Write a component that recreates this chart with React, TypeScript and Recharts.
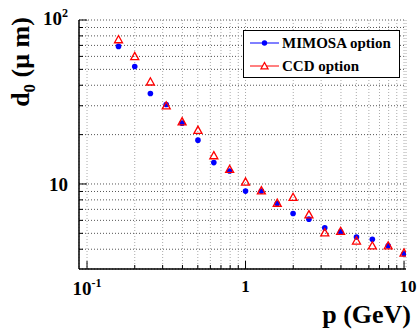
import React from "react";
import { ScatterChart, Scatter, XAxis, YAxis, CartesianGrid } from "recharts";

// momentum points (GeV) and impact parameter resolution d0 (um)
const momentum = [0.158, 0.2, 0.251, 0.316, 0.398, 0.501, 0.631, 0.794, 1.0, 1.259, 1.585, 1.995, 2.512, 3.162, 3.981, 5.012, 6.31, 7.943, 10.0];
const mimosaD0 = [69, 52, 35.6, 30.5, 23.5, 18.5, 13.5, 12.0, 9.05, 9.05, 7.6, 6.6, 6.1, 5.4, 5.1, 4.75, 4.6, 4.2, 3.75];
const ccdD0 = [76, 60, 42, 30, 24, 21.3, 14.9, 12.3, 10.3, 9.1, 7.65, 8.3, 6.5, 5.05, 5.15, 4.5, 4.2, 4.2, 3.8];
const seriesNames = ["MIMOSA option", "CCD option"];

const xTicks = [0.1, 0.2, 0.3, 0.4, 0.5, 0.6, 0.7, 0.8, 0.9, 1, 2, 3, 4, 5, 6, 7, 8, 9, 10];
const yTicks = [4, 5, 6, 7, 8, 9, 10, 20, 30, 40, 50, 60, 70, 80, 90, 100];
const xMajor = [0.1, 1, 10];
const yMajor = [10, 100];

const FONT = '"Liberation Serif", "Times New Roman", serif';
const BLUE = "#0000ff";
const RED = "#ff0000";

const mimosaData = momentum.map((p, i) => ({ x: p, y: mimosaD0[i] }));
const ccdData = momentum.map((p, i) => ({ x: p, y: ccdD0[i] }));

const BottomTick = (props: any) => {
  const { x, y, payload } = props;
  const v = payload.value;
  const major = xMajor.includes(v);
  return (
    <g>
      <line x1={x} y1={y} x2={x} y2={y - (major ? 8 : 4)} stroke="#000" />
      {v === 0.1 && (
        <text x={x} y={y + 26} textAnchor="middle" fontFamily={FONT} fontWeight="bold" fontSize={19}>
          10<tspan dy={-8} fontSize={12}>-1</tspan>
        </text>
      )}
      {v === 1 && (
        <text x={x} y={y + 23} textAnchor="middle" fontFamily={FONT} fontWeight="bold" fontSize={17}>
          1
        </text>
      )}
      {v === 10 && (
        <text x={x + 4} y={y + 23} textAnchor="middle" fontFamily={FONT} fontWeight="bold" fontSize={17}>
          10
        </text>
      )}
    </g>
  );
};

const TopTick = (props: any) => {
  const { x, y, payload } = props;
  const major = xMajor.includes(payload.value);
  return <line x1={x} y1={y} x2={x} y2={y + (major ? 8 : 4)} stroke="#000" />;
};

const LeftTick = (props: any) => {
  const { x, y, payload } = props;
  const v = payload.value;
  const major = yMajor.includes(v);
  return (
    <g>
      <line x1={x} y1={y} x2={x + (major ? 8 : 4)} y2={y} stroke="#000" />
      {v === 10 && (
        <text x={x - 11} y={y + 7} textAnchor="end" fontFamily={FONT} fontWeight="bold" fontSize={19}>
          10
        </text>
      )}
      {v === 100 && (
        <text x={x - 11} y={y + 5} textAnchor="end" fontFamily={FONT} fontWeight="bold" fontSize={19}>
          10<tspan dy={-8} fontSize={12}>2</tspan>
        </text>
      )}
    </g>
  );
};

const RightTick = (props: any) => {
  const { x, y, payload } = props;
  const major = yMajor.includes(payload.value);
  return <line x1={x} y1={y} x2={x - (major ? 8 : 4)} y2={y} stroke="#000" />;
};

const BlueDot = (props: any) => <circle cx={props.cx} cy={props.cy} r={2.8} fill={BLUE} />;

const RedTriangle = (props: any) => {
  const { cx, cy } = props;
  const s = 4;
  return (
    <polygon
      points={`${cx},${cy - s} ${cx + s},${cy + s * 0.8} ${cx - s},${cy + s * 0.8}`}
      fill="none"
      stroke={RED}
      strokeWidth={1.3}
    />
  );
};

const axisLine = { stroke: "#000", strokeWidth: 1.5 };

export default function App() {
  return (
    <div style={{ position: "absolute", left: 0, top: 0, width: 418, height: 334, background: "#fff" }}>
      <ScatterChart width={418} height={334} margin={{ top: 20, right: 12, bottom: 0, left: 0 }}>
        <CartesianGrid vertical={false} stroke="#555" strokeDasharray="1 2" />
        <CartesianGrid horizontal={false} stroke="#aaa" strokeDasharray="1 2" />
        <XAxis
          dataKey="x"
          type="number"
          scale="log"
          domain={[0.089, 10.29]}
          allowDataOverflow
          ticks={xTicks}
          interval={0}
          tickSize={0}
          tickMargin={0}
          height={65}
          axisLine={axisLine}
          tick={BottomTick}
        />
        <XAxis
          xAxisId="top"
          orientation="top"
          type="number"
          scale="log"
          domain={[0.089, 10.29]}
          allowDataOverflow
          ticks={xTicks}
          interval={0}
          tickSize={0}
          tickMargin={0}
          height={0}
          axisLine={axisLine}
          tick={TopTick}
        />
        <YAxis
          dataKey="y"
          type="number"
          scale="log"
          domain={[3.03, 100]}
          allowDataOverflow
          ticks={yTicks}
          interval={0}
          tickSize={0}
          tickMargin={0}
          width={79}
          axisLine={axisLine}
          tick={LeftTick}
        />
        <YAxis
          yAxisId="right"
          orientation="right"
          type="number"
          scale="log"
          domain={[3.03, 100]}
          allowDataOverflow
          ticks={yTicks}
          interval={0}
          tickSize={0}
          tickMargin={0}
          width={0}
          axisLine={axisLine}
          tick={RightTick}
        />
        <Scatter name={seriesNames[0]} data={mimosaData} shape={BlueDot} isAnimationActive={false} />
        <Scatter name={seriesNames[1]} data={ccdData} shape={RedTriangle} isAnimationActive={false} />
      </ScatterChart>

      <svg width={418} height={334} style={{ position: "absolute", left: 0, top: 0, pointerEvents: "none" }}>
        <text
          transform="translate(29,62) rotate(-90)"
          textAnchor="middle"
          fontFamily={FONT}
          fontWeight="bold"
          fontSize={26}
        >
          d<tspan dy={6} fontSize={17}>0</tspan>
          <tspan dy={-6}> (μ m)</tspan>
        </text>
        <text x={411} y={323} textAnchor="end" fontFamily={FONT} fontWeight="bold" fontSize={26}>
          p (GeV)
        </text>
      </svg>

      <div
        style={{
          position: "absolute",
          left: 243,
          top: 30,
          width: 157,
          height: 48,
          boxSizing: "border-box",
          border: "1px solid #000",
          background: "#fff",
        }}
      >
        <svg width={155} height={46} style={{ display: "block" }}>
          <line x1={6} x2={35} y1={12} y2={12} stroke={BLUE} />
          <circle cx={20.5} cy={12} r={2.7} fill={BLUE} />
          <text x={38} y={17} fontFamily={FONT} fontWeight="bold" fontSize={15}>
            {seriesNames[0]}
          </text>
          <line x1={6} x2={35} y1={35} y2={35} stroke={RED} />
          <polygon points="20.5,31.5 24,37.8 17,37.8" fill="#fff" stroke={RED} strokeWidth={1.3} />
          <text x={38} y={40} fontFamily={FONT} fontWeight="bold" fontSize={15}>
            {seriesNames[1]}
          </text>
        </svg>
      </div>
    </div>
  );
}
